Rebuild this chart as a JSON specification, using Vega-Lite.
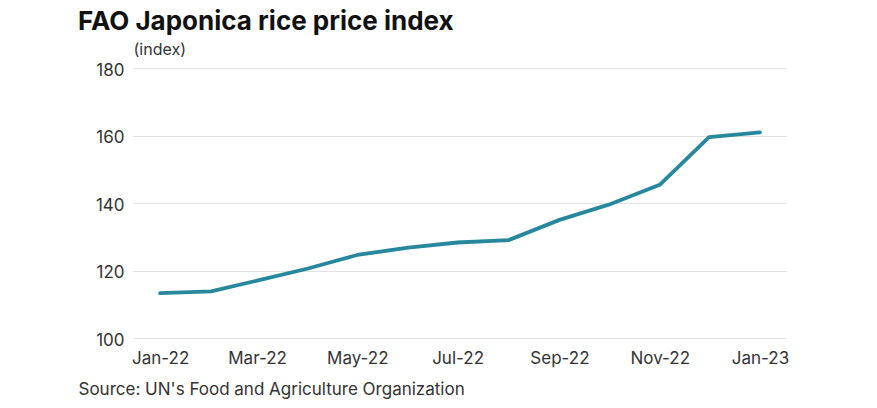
{
  "$schema": "https://vega.github.io/schema/vega-lite/v6.json",
  "width": 653,
  "height": 270,
  "autosize": "none",
  "padding": {"left": 133, "top": 68, "right": 91, "bottom": 70},
  "background": "white",
  "title": {
    "text": "FAO Japonica rice price index",
    "anchor": "start",
    "frame": "group",
    "dx": -55,
    "offset": 6,
    "fontSize": 26,
    "fontWeight": "bold",
    "font": "Inter",
    "color": "#111111"
  },
  "data": {
    "values": [
      {"date": "2022-01-01", "value": 113.3},
      {"date": "2022-02-01", "value": 113.8},
      {"date": "2022-03-01", "value": 117.0},
      {"date": "2022-04-01", "value": 120.6},
      {"date": "2022-05-01", "value": 124.6},
      {"date": "2022-06-01", "value": 126.8},
      {"date": "2022-07-01", "value": 128.3},
      {"date": "2022-08-01", "value": 129.0},
      {"date": "2022-09-01", "value": 135.0},
      {"date": "2022-10-01", "value": 139.5},
      {"date": "2022-11-01", "value": 145.4},
      {"date": "2022-12-01", "value": 159.5},
      {"date": "2023-01-01", "value": 160.9}
    ]
  },
  "mark": {"type": "line", "color": "#27879c", "strokeWidth": 3.8, "strokeCap": "round", "strokeJoin": "round"},
  "encoding": {
    "x": {
      "field": "date",
      "type": "temporal",
      "scale": {
        "type": "utc",
        "domain": [
          {"year": 2021, "month": 12, "date": 15, "hours": 12, "utc": true},
          {"year": 2023, "month": 1, "date": 16, "hours": 20, "utc": true}
        ]
      },
      "axis": {
        "values": [
          {"year": 2022, "month": 1, "date": 1, "utc": true},
          {"year": 2022, "month": 3, "date": 1, "utc": true},
          {"year": 2022, "month": 5, "date": 1, "utc": true},
          {"year": 2022, "month": 7, "date": 1, "utc": true},
          {"year": 2022, "month": 9, "date": 1, "utc": true},
          {"year": 2022, "month": 11, "date": 1, "utc": true},
          {"year": 2023, "month": 1, "date": 1, "utc": true}
        ],
        "format": "%b-%y",
        "grid": false,
        "domain": false,
        "ticks": false,
        "labelPadding": 12,
        "labelFontSize": 17,
        "labelColor": "#333333",
        "labelFont": "Inter",
        "title": "Source: UN's Food and Agriculture Organization",
        "titleX": -55,
        "titleY": 56,
        "titleAlign": "left",
        "titleBaseline": "alphabetic",
        "titleFontSize": 17,
        "titleFontWeight": "normal",
        "titleColor": "#333333",
        "titleFont": "Inter"
      }
    },
    "y": {
      "field": "value",
      "type": "quantitative",
      "scale": {"domain": [100, 180], "nice": false, "zero": false},
      "axis": {
        "values": [100, 120, 140, 160, 180],
        "grid": true,
        "gridColor": "#e2e2e2",
        "gridWidth": 1,
        "domain": false,
        "ticks": false,
        "labelPadding": 9,
        "labelOffset": 2,
        "labelFontSize": 17,
        "labelColor": "#333333",
        "labelFont": "Inter",
        "title": "(index)",
        "titleAngle": 0,
        "titleX": 0,
        "titleY": -14,
        "titleAlign": "left",
        "titleBaseline": "alphabetic",
        "titleFontSize": 16,
        "titleFontWeight": "normal",
        "titleColor": "#333333",
        "titleFont": "Inter"
      }
    }
  },
  "config": {"view": {"stroke": null}}
}
